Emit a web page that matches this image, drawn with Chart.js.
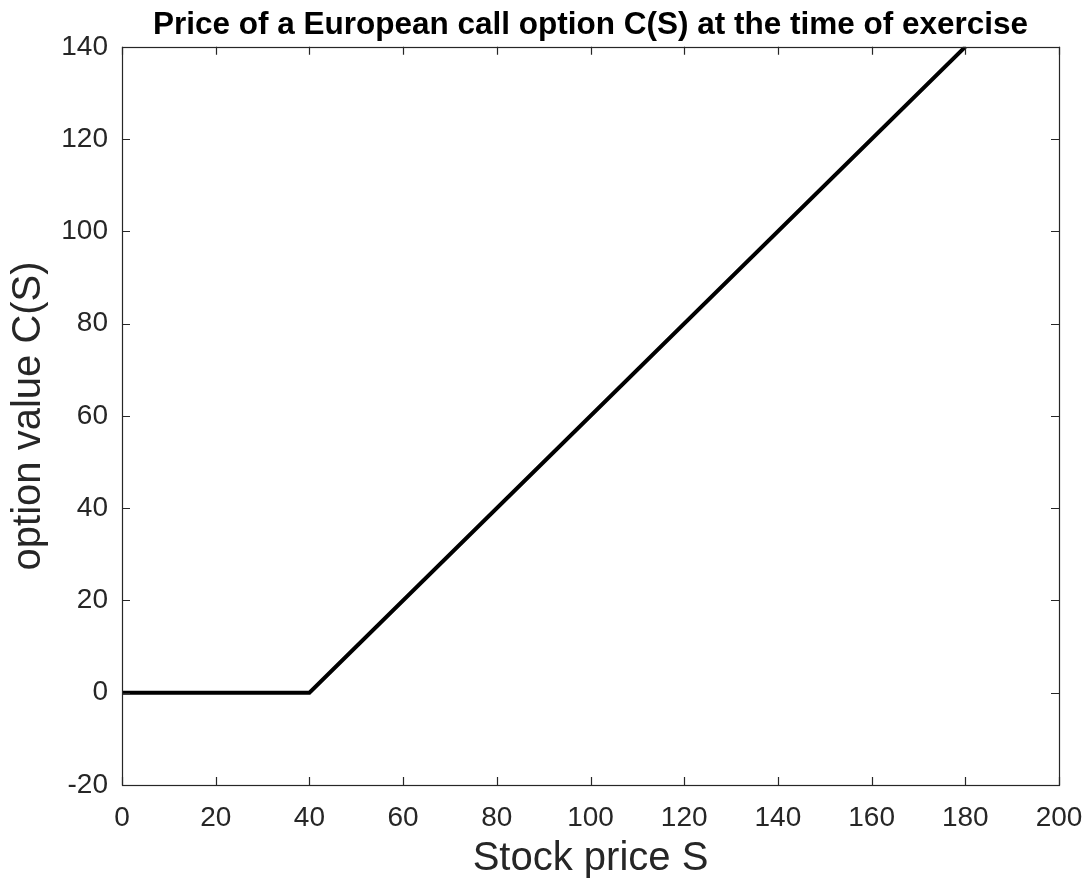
<!DOCTYPE html>
<html>
<head>
<meta charset="utf-8">
<title>European call option</title>
<script src="https://cdn.jsdelivr.net/npm/chart.js@4.4.0/dist/chart.umd.min.js"></script>
<style>
  html, body { margin: 0; padding: 0; background: #fff; }
  #wrap { width: 1089px; height: 883px; }
</style>
</head>
<body>
<div id="wrap"><canvas id="payoff"></canvas></div>
<script>
// Payoff at exercise: max(S - K, 0)
const stockPrice  = [0, 40, 180];
const optionValue = [0, 0, 140];

const xTicks = [0, 20, 40, 60, 80, 100, 120, 140, 160, 180, 200];
const yTicks = [-20, 0, 20, 40, 60, 80, 100, 120, 140];

const AXIS_COLOR = '#262626';
const FONT = '"Liberation Sans", Arial, Helvetica, sans-serif';

// MATLAB-like box with inward ticks on all four sides
const boxPlugin = {
  id: 'box',
  afterDraw(chart) {
    const { ctx, chartArea: a, scales } = chart;
    const len = 8;
    ctx.save();
    ctx.strokeStyle = AXIS_COLOR;
    ctx.lineWidth = 1.2;
    ctx.beginPath();
    scales.x.ticks.forEach(t => {
      const px = Math.round(scales.x.getPixelForValue(t.value)) + 0.5;
      ctx.moveTo(px, a.bottom); ctx.lineTo(px, a.bottom - len);
      ctx.moveTo(px, a.top);    ctx.lineTo(px, a.top + len);
    });
    scales.y.ticks.forEach(t => {
      const py = Math.round(scales.y.getPixelForValue(t.value)) + 0.5;
      ctx.moveTo(a.left, py);  ctx.lineTo(a.left + len, py);
      ctx.moveTo(a.right, py); ctx.lineTo(a.right - len, py);
    });
    ctx.stroke();
    ctx.strokeRect(Math.round(a.left) + 0.5, Math.round(a.top) + 0.5,
                   Math.round(a.right - a.left), Math.round(a.bottom - a.top));
    ctx.restore();
  }
};

new Chart(document.getElementById('payoff'), {
  type: 'line',
  data: {
    datasets: [{
      data: stockPrice.map((s, i) => ({ x: s, y: optionValue[i] })),
      borderColor: '#000',
      borderWidth: 4,
      pointRadius: 0,
      tension: 0,
      fill: false
    }]
  },
  options: {
    responsive: true,
    maintainAspectRatio: false,
    animation: false,
    layout: { padding: { left: 0, right: 30, top: 0, bottom: 0 } },
    plugins: {
      legend: { display: false },
      tooltip: { enabled: false },
      title: {
        display: true,
        fullSize: false,
        text: 'Price of a European call option C(S) at the time of exercise',
        color: '#000',
        font: { family: FONT, size: 31.5, weight: 'bold' },
        padding: { top: 6, bottom: 3 }
      }
    },
    scales: {
      x: {
        type: 'linear',
        min: 0, max: 200,
        afterBuildTicks: s => { s.ticks = xTicks.map(v => ({ value: v })); },
        afterFit: s => { s.height = 98; s.paddingLeft = 0; s.paddingRight = 0; },
        grid: { display: false, drawTicks: false },
        border: { display: false },
        ticks: {
          color: AXIS_COLOR,
          padding: 16,
          maxRotation: 0,
          font: { family: FONT, size: 28 }
        },
        title: {
          display: true,
          text: 'Stock price S',
          color: AXIS_COLOR,
          font: { family: FONT, size: 40 },
          padding: { top: 0, bottom: 0 }
        }
      },
      y: {
        type: 'linear',
        min: -20, max: 140,
        afterBuildTicks: s => { s.ticks = yTicks.map(v => ({ value: v })); },
        afterFit: s => { s.width = 122; },
        grid: { display: false, drawTicks: false },
        border: { display: false },
        ticks: {
          color: AXIS_COLOR,
          padding: 14,
          font: { family: FONT, size: 28 }
        },
        title: {
          display: true,
          text: 'option value C(S)',
          color: AXIS_COLOR,
          font: { family: FONT, size: 40 },
          padding: { top: 5, bottom: 0 }
        }
      }
    }
  },
  plugins: [boxPlugin]
});
</script>
</body>
</html>
